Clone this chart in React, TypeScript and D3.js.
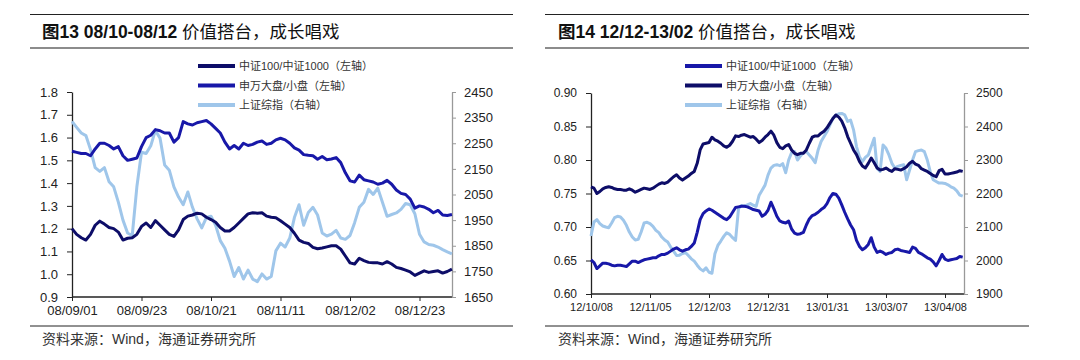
import React, { useRef, useEffect } from "react";
import * as d3 from "d3";

// ---- left chart: 08/09 - 08/12 ----
const leftTickLabels = ["08/09/01", "08/09/23", "08/10/21", "08/11/11", "08/12/02", "08/12/23"];
const leftTickIndex = [0, 15, 30, 45, 60, 75];
const leftYTicks = [0.9, 1.0, 1.1, 1.2, 1.3, 1.4, 1.5, 1.6, 1.7, 1.8];
const leftY2Ticks = [1650, 1750, 1850, 1950, 2050, 2150, 2250, 2350, 2450];
// 中证100/中证1000
const leftCsi = [
  1.2, 1.175, 1.16, 1.15, 1.175, 1.215, 1.233, 1.22, 1.205, 1.2, 1.185, 1.15, 1.158, 1.16, 1.175, 1.21,
  1.225, 1.205, 1.235, 1.215, 1.195, 1.175, 1.166, 1.195, 1.24, 1.255, 1.26, 1.268, 1.265, 1.25, 1.24,
  1.228, 1.205, 1.19, 1.19, 1.205, 1.225, 1.245, 1.265, 1.27, 1.268, 1.27, 1.255, 1.25, 1.248, 1.235,
  1.22, 1.205, 1.18, 1.15, 1.14, 1.135, 1.118, 1.112, 1.115, 1.12, 1.125, 1.125, 1.11, 1.08, 1.05, 1.045,
  1.07, 1.06, 1.052, 1.05, 1.05, 1.045, 1.055, 1.045, 1.03, 1.025, 1.018, 1.01, 0.995, 1.005, 1.015,
  1.008, 1.012, 1.015, 1.005, 1.012, 1.022,
];
// 申万大盘/小盘
const leftSw = [
  1.54, 1.535, 1.53, 1.53, 1.52, 1.55, 1.575, 1.575, 1.565, 1.55, 1.56, 1.52, 1.5, 1.505, 1.51, 1.56,
  1.6, 1.61, 1.635, 1.63, 1.62, 1.62, 1.58, 1.6, 1.67, 1.66, 1.655, 1.665, 1.67, 1.675, 1.66, 1.64, 1.62,
  1.58, 1.55, 1.565, 1.55, 1.575, 1.565, 1.57, 1.58, 1.585, 1.57, 1.575, 1.59, 1.597, 1.59, 1.575, 1.555,
  1.545, 1.525, 1.522, 1.52, 1.505, 1.517, 1.503, 1.506, 1.512, 1.49, 1.445, 1.41, 1.405, 1.435, 1.415,
  1.41, 1.405, 1.395, 1.4, 1.412, 1.395, 1.37, 1.355, 1.35, 1.33, 1.29, 1.3, 1.295, 1.285, 1.27, 1.28,
  1.26, 1.258, 1.262,
];
// 上证综指
const leftSh = [
  2335, 2312, 2290, 2280, 2225, 2155, 2140, 2155, 2100, 2080, 2020, 1950, 1900, 1890, 2080, 2215, 2210,
  2240, 2300, 2270, 2165, 2145, 2080, 2040, 2010, 2060, 2000, 1955, 1920, 1960, 1965, 1930, 1870, 1840,
  1790, 1730, 1765, 1720, 1755, 1720, 1710, 1740, 1720, 1730, 1830, 1860, 1845, 1880, 1960, 2010, 1930,
  1980, 2000, 1970, 1900, 1888, 1895, 1910, 1880, 1875, 1890, 1940, 2000, 2020, 2070, 2050, 2075, 2020,
  1965, 1972, 1978, 1992, 2015, 2010, 1975, 1895, 1865, 1855, 1852, 1845, 1835, 1826, 1818,
];

// ---- right chart: 12/10 - 13/04 ----
const rightTickLabels = ["12/10/08", "12/11/05", "12/12/03", "12/12/31", "13/01/31", "13/03/07", "13/04/08"];
const rightTickIndex = [0, 20, 40, 60, 80, 100, 120];
const rightYTicks = [0.6, 0.65, 0.7, 0.75, 0.8, 0.85, 0.9];
const rightY2Ticks = [1900, 2000, 2100, 2200, 2300, 2400, 2500];
const rightCsi = [
  0.651, 0.647, 0.638, 0.642, 0.646, 0.646, 0.645, 0.643, 0.642, 0.643, 0.643, 0.642, 0.641, 0.645,
  0.649, 0.649, 0.647, 0.649, 0.651, 0.652, 0.653, 0.654, 0.654, 0.657, 0.659, 0.659, 0.661, 0.664,
  0.667, 0.669, 0.666, 0.664, 0.666, 0.667, 0.671, 0.676, 0.692, 0.711, 0.72, 0.724, 0.727, 0.725,
  0.722, 0.719, 0.716, 0.713, 0.711, 0.715, 0.722, 0.729, 0.73, 0.731, 0.731, 0.73, 0.728, 0.726,
  0.725, 0.724, 0.716, 0.719, 0.725, 0.737, 0.727, 0.716, 0.709, 0.707, 0.706, 0.709, 0.697, 0.691,
  0.689, 0.69, 0.692, 0.703, 0.712, 0.717, 0.719, 0.722, 0.726, 0.729, 0.735, 0.744, 0.75, 0.749,
  0.743, 0.733, 0.722, 0.712, 0.703, 0.696, 0.68, 0.671, 0.666, 0.669, 0.674, 0.684, 0.67, 0.662,
  0.664, 0.662, 0.659, 0.661, 0.662, 0.666, 0.667, 0.665, 0.664, 0.663, 0.662, 0.67, 0.668, 0.662,
  0.66, 0.657, 0.654, 0.652, 0.648, 0.642, 0.65, 0.659, 0.652, 0.65, 0.651, 0.652, 0.653, 0.656, 0.655,
];
const rightSw = [
  0.76, 0.758, 0.75, 0.753, 0.757, 0.759, 0.76, 0.759, 0.757, 0.756, 0.756, 0.755, 0.755, 0.757, 0.755,
  0.752, 0.754, 0.756, 0.758, 0.757, 0.756, 0.758, 0.761, 0.764, 0.766, 0.765, 0.767, 0.771, 0.775,
  0.778, 0.773, 0.77, 0.773, 0.776, 0.78, 0.783, 0.795, 0.815, 0.824, 0.825, 0.826, 0.834, 0.83, 0.828,
  0.825, 0.821, 0.819, 0.822, 0.828, 0.836, 0.835, 0.837, 0.838, 0.836, 0.834, 0.835, 0.831, 0.826,
  0.829, 0.834, 0.838, 0.843, 0.837, 0.826, 0.819, 0.817, 0.821, 0.823, 0.815, 0.81, 0.808, 0.81, 0.81,
  0.815, 0.825, 0.834, 0.836, 0.836, 0.84, 0.843, 0.848, 0.855, 0.862, 0.867, 0.864, 0.858, 0.848,
  0.835, 0.825, 0.815, 0.808, 0.798, 0.791, 0.788, 0.795, 0.803, 0.796, 0.788, 0.785, 0.786, 0.788,
  0.785, 0.783, 0.787, 0.786, 0.785, 0.787, 0.79, 0.795, 0.798, 0.794, 0.792, 0.787, 0.785, 0.783,
  0.78, 0.777, 0.775, 0.784, 0.786, 0.779, 0.779, 0.78, 0.781, 0.782, 0.784, 0.783,
];
const rightSh = [
  2073, 2115, 2122, 2110, 2103, 2100, 2098, 2112, 2128, 2132, 2130, 2120, 2105, 2085, 2070, 2061, 2063,
  2085, 2112, 2114, 2110, 2102, 2090, 2083, 2070, 2061, 2055, 2040, 2028, 2015, 2016, 2021, 2024, 2015,
  2005, 1998, 1986, 1975, 1969, 1978, 1965, 1962, 2020, 2045, 2058, 2072, 2083, 2078, 2068, 2060, 2155,
  2164, 2162, 2166, 2170, 2165, 2162, 2195, 2210, 2225, 2255, 2276, 2284, 2286, 2283, 2289, 2262, 2300,
  2322, 2325, 2300, 2312, 2322, 2325, 2315, 2305, 2292, 2330, 2355, 2370, 2385, 2405, 2424, 2434, 2438,
  2439, 2435, 2415, 2419, 2390, 2340, 2310, 2295, 2308, 2315, 2340, 2365, 2275, 2266, 2345, 2335, 2315,
  2290, 2276, 2281, 2284, 2286, 2241, 2270, 2300, 2325, 2328, 2330, 2325, 2300, 2265, 2241, 2236, 2231,
  2231, 2230, 2226, 2220, 2216, 2208, 2195, 2192,
];

const legendNames = ["中证100/中证1000（左轴）", "申万大盘/小盘（左轴）", "上证综指（右轴）"];

const NAVY = "#0d0d68";
const BLUE = "#1818a8";
const LIGHT = "#9fc6ea";
const FONT = "'Liberation Sans', Arial, 'Noto Sans CJK SC', sans-serif";

const panels = [
  {
    num: "13", range: "08/10-08/12",
    left: 30, right: 513, titleX: 42,
    x0: 72, step: 69.5 / 15, xEnd: 452,
    yTop: 92, yBottom: 297,
    yDomain: [0.9, 1.8], y2Domain: [1650, 2450],
    yTicks: leftYTicks, y2Ticks: leftY2Ticks, yFmt: ".1f",
    tickIndex: leftTickIndex, tickLabels: leftTickLabels,
    csi: leftCsi, sw: leftSw, sh: leftSh,
    csiColor: NAVY, swColor: BLUE,
    legendX: 198, legendY: 66,
    axisFont: 13, xFont: 13,
  },
  {
    num: "14", range: "12/12-13/02",
    left: 545, right: 1029, titleX: 558,
    x0: 591, step: 59 / 20, xEnd: 964,
    yTop: 93, yBottom: 294,
    yDomain: [0.6, 0.9], y2Domain: [1900, 2500],
    yTicks: rightYTicks, y2Ticks: rightY2Ticks, yFmt: ".2f",
    tickIndex: rightTickIndex, tickLabels: rightTickLabels,
    csi: rightCsi, sw: rightSw, sh: rightSh,
    csiColor: BLUE, swColor: NAVY,
    legendX: 685, legendY: 66,
    axisFont: 12, xFont: 11,
  },
];

const Panel = ({ p }) => {
  const gRef = useRef(null);

  useEffect(() => {
    const g = d3.select(gRef.current);
    g.selectAll("*").remove();

    const n = p.csi.length;
    const x = d3.scaleLinear().domain([0, n - 1]).range([p.x0, p.x0 + (n - 1) * p.step]);
    const y = d3.scaleLinear().domain(p.yDomain).range([p.yBottom, p.yTop]);
    const y2 = d3.scaleLinear().domain(p.y2Domain).range([p.yBottom, p.yTop]);

    // rules + title + source
    g.append("line").attr("x1", p.left).attr("x2", p.right).attr("y1", 14.5).attr("y2", 14.5)
      .attr("stroke", "#222").attr("stroke-width", 1);
    g.append("line").attr("x1", p.left).attr("x2", p.right).attr("y1", 48).attr("y2", 48)
      .attr("stroke", "#666").attr("stroke-width", 1.5);
    g.append("line").attr("x1", p.left).attr("x2", p.right).attr("y1", 326).attr("y2", 326)
      .attr("stroke", "#222").attr("stroke-width", 1);

    const title = g.append("text").attr("x", p.titleX).attr("y", 38)
      .attr("font-size", 17.5).attr("fill", "#111").attr("font-family", FONT);
    title.append("tspan").attr("font-weight", "bold").text("图");
    title.append("tspan").attr("font-weight", "bold").text(p.num + " " + p.range + " ");
    title.append("tspan").text("价值搭台，成长唱戏");

    g.append("text").attr("x", p.titleX).attr("y", 344).attr("font-size", 14)
      .attr("fill", "#333").attr("font-family", FONT).text("资料来源：Wind，海通证券研究所");

    // axes
    const xAxis = d3.axisBottom(x).tickValues(p.tickIndex)
      .tickFormat((d, i) => p.tickLabels[i]).tickSize(4).tickPadding(5).tickSizeOuter(0);
    const xg = g.append("g").attr("transform", `translate(0,${p.yBottom})`).call(xAxis);
    xg.select(".domain").attr("d", `M${p.x0},0H${p.xEnd}`).attr("stroke", "#222").attr("stroke-width", 1.3);

    const yAxis = d3.axisLeft(y).tickValues(p.yTicks).tickFormat(d3.format(p.yFmt))
      .tickSize(5).tickPadding(9).tickSizeOuter(0);
    const yg = g.append("g").attr("transform", `translate(${p.x0},0)`).call(yAxis);
    yg.select(".domain").attr("stroke", "#222").attr("stroke-width", 1.3);

    const y2Axis = d3.axisRight(y2).tickValues(p.y2Ticks).tickFormat(d3.format("d"))
      .tickSize(4).tickPadding(8).tickSizeOuter(0);
    const y2g = g.append("g").attr("transform", `translate(${p.xEnd},0)`).call(y2Axis);
    y2g.select(".domain").attr("stroke", "#999").attr("stroke-width", 1.3);
    y2g.selectAll(".tick line").attr("stroke", "#999");

    [xg, yg, y2g].forEach((ax) => {
      ax.selectAll("text").attr("font-family", FONT).attr("fill", "#222");
    });
    xg.selectAll("text").attr("font-size", p.xFont);
    yg.selectAll("text").attr("font-size", p.axisFont);
    y2g.selectAll("text").attr("font-size", p.axisFont);
    xg.selectAll(".tick line").attr("stroke", "#222");
    yg.selectAll(".tick line").attr("stroke", "#222");

    // series
    const lineL = d3.line().x((d, i) => x(i)).y((d) => y(d));
    const lineR = d3.line().x((d, i) => x(i)).y((d) => y2(d));
    g.append("path").attr("d", lineR(p.sh)).attr("fill", "none").attr("stroke", LIGHT)
      .attr("stroke-width", 3).attr("stroke-linejoin", "round");
    g.append("path").attr("d", lineL(p.sw)).attr("fill", "none").attr("stroke", p.swColor)
      .attr("stroke-width", 3).attr("stroke-linejoin", "round");
    g.append("path").attr("d", lineL(p.csi)).attr("fill", "none").attr("stroke", p.csiColor)
      .attr("stroke-width", 3).attr("stroke-linejoin", "round");

    // legend
    const colors = [p.csiColor, p.swColor, LIGHT];
    legendNames.forEach((name, i) => {
      const ly = p.legendY + i * 19.5;
      g.append("line").attr("x1", p.legendX).attr("x2", p.legendX + 37).attr("y1", ly).attr("y2", ly)
        .attr("stroke", colors[i]).attr("stroke-width", 4);
      g.append("text").attr("x", p.legendX + 41).attr("y", ly + 4).attr("font-size", 11)
        .attr("fill", "#333").attr("font-family", FONT).text(name);
    });
  }, [p]);

  return <g ref={gRef} />;
};

const App = () => {
  return (
    <div style={{ position: "absolute", left: 0, top: 0 }}>
      <svg width={1080} height={360} style={{ display: "block", background: "#fff" }}>
        {panels.map((p) => (
          <Panel key={p.num} p={p} />
        ))}
      </svg>
    </div>
  );
};

export default App;
